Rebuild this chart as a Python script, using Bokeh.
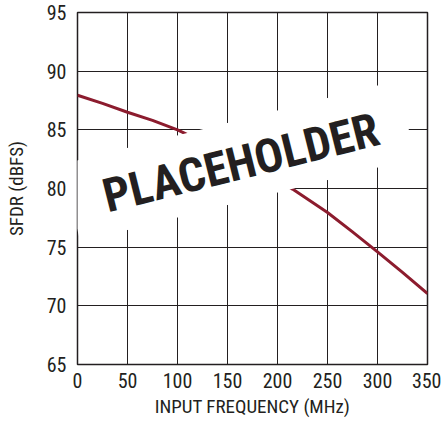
from bokeh.plotting import figure
from bokeh.models import Range1d, FixedTicker, PolyAnnotation, Label
from bokeh.embed import file_html
from bokeh.resources import INLINE

# Data
freq_mhz = [0, 25, 50, 75, 100, 110, 150, 200, 215, 250, 275, 300, 325, 350]
sfdr_dbfs = [87.95, 87.25, 86.5, 85.8, 85.0, 84.6, 82.9, 80.7, 79.95, 77.95, 76.3, 74.6, 72.85, 71.05]
x_ticks = [0, 50, 100, 150, 200, 250, 300, 350]
y_ticks = [65, 70, 75, 80, 85, 90, 95]

FONT = "Roboto Condensed, Roboto"
LINE_RED = "#8c1c2e"

p = figure(frame_width=350, frame_height=352,
           x_range=Range1d(0, 350), y_range=Range1d(65, 95),
           output_backend="svg", toolbar_location=None,
           min_border_left=77, min_border_right=14,
           min_border_top=12, min_border_bottom=55,
           background_fill_color="white", border_fill_color="white")

p.line(freq_mhz, sfdr_dbfs, line_color=LINE_RED, line_width=3)

for ax, ticks in ((p.xaxis, x_ticks), (p.yaxis, y_ticks)):
    ax.ticker = FixedTicker(ticks=ticks)
    ax.major_tick_line_color = None
    ax.minor_tick_line_color = None
    ax.major_tick_in = 0
    ax.major_tick_out = 0
    ax.axis_line_color = None
    ax.major_label_text_font = FONT
    ax.major_label_text_font_size = "20px"
    ax.major_label_text_color = "#231f20"
    ax.axis_label_text_font = FONT
    ax.axis_label_text_font_size = "19px"
    ax.axis_label_text_font_style = "normal"
    ax.axis_label_text_color = "#231f20"

p.xaxis.axis_label = "INPUT FREQUENCY (MHz)"
p.yaxis.axis_label = "SFDR (dBFS)"
p.xaxis.major_label_standoff = 8
p.xaxis.axis_label_standoff = 4
p.yaxis.major_label_standoff = 11
p.yaxis.axis_label_standoff = 16

p.xgrid.ticker = FixedTicker(ticks=x_ticks)
p.ygrid.ticker = FixedTicker(ticks=y_ticks)
p.grid.grid_line_color = "#231f20"
p.grid.grid_line_width = 1

p.outline_line_color = "#231f20"
p.outline_line_width = 1.5

# White band behind the placeholder stamp (corners in data coordinates)
band = PolyAnnotation(xs=[-16.4, 319.1, 338.4, 2.9], ys=[82.04, 89.19, 82.61, 75.46],
                      fill_color="white", fill_alpha=1.0, line_color=None)
p.add_layout(band)

stamp = Label(x=163.3, y=82.22, text="PLACEHOLDER", angle=14, angle_units="deg",
              text_font=FONT, text_font_style="bold", text_font_size="47px",
              text_align="center", text_baseline="middle", text_color="#231f20")
p.add_layout(stamp)

open("out.html", "w").write(file_html(p, INLINE))
